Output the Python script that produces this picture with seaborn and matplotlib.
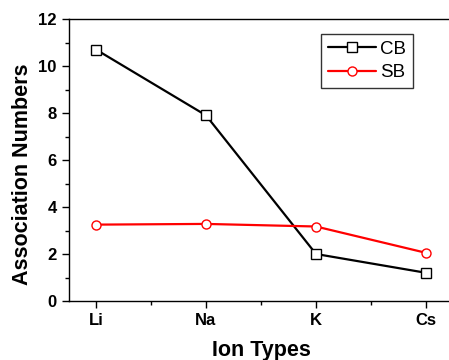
import matplotlib
matplotlib.use("Agg")
import matplotlib.pyplot as plt
import seaborn as sns
import pandas as pd
from matplotlib.ticker import MultipleLocator
from matplotlib.lines import Line2D

ions = ["Li", "Na", "K", "Cs"]
cb_values = [10.7, 7.9, 2.0, 1.2]
sb_values = [3.25, 3.28, 3.17, 2.05]

sns.set_style("ticks")
plt.rcParams['font.family'] = ['Liberation Sans', 'DejaVu Sans']
plt.rcParams.update({"text.color": "black", "axes.labelcolor": "black",
                     "xtick.color": "black", "ytick.color": "black",
                     "axes.edgecolor": "black"})

df = pd.DataFrame({
    "pos": list(range(len(ions))) * 2,
    "value": cb_values + sb_values,
    "series": ["CB"] * len(ions) + ["SB"] * len(ions),
})

fig = plt.figure(figsize=(4.49, 3.6), dpi=100)
ax = fig.add_axes([68.5 / 449, 1 - 301 / 360, 385 / 449, 282 / 360])

sns.lineplot(data=df, x="pos", y="value", hue="series", style="series",
             palette={"CB": "black", "SB": "red"},
             markers={"CB": "s", "SB": "o"}, dashes=False,
             markersize=6.5, markeredgewidth=1.0,
             linewidth=1.6, ax=ax, legend=False)

for line, col in zip(ax.lines, ["black", "red"]):
    line.set_markeredgecolor(col)
    line.set_markerfacecolor("white")

ax.set_xlim(-0.25, 3.25)
ax.set_ylim(0, 12)
ax.set_xticks(range(len(ions)))
ax.set_xticklabels(ions)
ax.xaxis.set_minor_locator(MultipleLocator(0.5))
ax.yaxis.set_major_locator(MultipleLocator(2))
ax.yaxis.set_minor_locator(MultipleLocator(1))
ax.tick_params(axis="both", which="major", direction="out", length=5, width=1,
               labelsize=12, colors="black")
ax.tick_params(axis="both", which="minor", direction="out", length=3, width=1,
               colors="black")
for lab in ax.get_xticklabels() + ax.get_yticklabels():
    lab.set_fontweight("bold")

for s in ax.spines.values():
    s.set_linewidth(1.0)
    s.set_color("black")

ax.set_xlabel("Ion Types", fontsize=15.5, fontweight="bold", labelpad=9)
ax.set_ylabel("Association Numbers", fontsize=15.5, fontweight="bold")
ax.yaxis.set_label_coords((33 - 68.5) / 385, (301 - 174.5) / 282)

handles = [
    Line2D([], [], color="black", marker="s", markerfacecolor="white",
           markeredgecolor="black", markersize=6.5, linewidth=1.6),
    Line2D([], [], color="red", marker="o", markerfacecolor="white",
           markeredgecolor="red", markersize=6.5, linewidth=1.6),
]
leg = ax.legend(handles, ["CB", "SB"], loc="upper left",
                fontsize=13.5, frameon=True, fancybox=False, edgecolor="black",
                handlelength=2.6, borderpad=0.35, labelspacing=0.35,
                handletextpad=0.2, borderaxespad=0)
leg.get_frame().set_linewidth(1.0)
leg.set_bbox_to_anchor(((321 - 68.5) / 385, 1 - 15 / 282), transform=ax.transAxes)

fig.savefig("out.png", dpi=100)
